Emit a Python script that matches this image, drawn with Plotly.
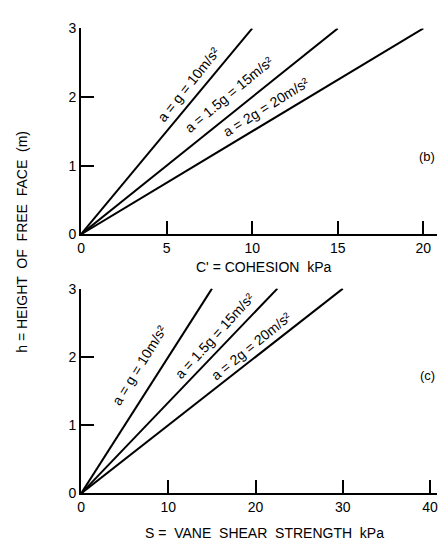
import plotly.graph_objects as go

# Data
accel_labels = ["a = g = 10m/s²", "a = 1.5g = 15m/s²", "a = 2g = 20m/s²"]
cohesion_kpa = [10, 15, 20]          # C' at h = 3 m (top panel)
vane_shear_kpa = [15, 22.5, 30]      # S at h = 3 m (bottom panel)
height_m = [3, 3, 3]
x_ticks_top = [0, 5, 10, 15, 20]
x_ticks_bottom = [0, 10, 20, 30, 40]
y_ticks = [0, 1, 2, 3]

W, H = 439, 551
FONT = "Liberation Sans, Arial, sans-serif"

fig = go.Figure()

for c, h in zip(cohesion_kpa, height_m):
    fig.add_trace(go.Scatter(x=[0, c], y=[0, h], mode="lines",
                             line=dict(color="black", width=2),
                             xaxis="x", yaxis="y", showlegend=False,
                             hoverinfo="skip"))
for s, h in zip(vane_shear_kpa, height_m):
    fig.add_trace(go.Scatter(x=[0, s], y=[0, h], mode="lines",
                             line=dict(color="black", width=2),
                             xaxis="x2", yaxis="y2", showlegend=False,
                             hoverinfo="skip"))

def px_x(p):
    return p / W

def px_y(p):
    return 1 - p / H

axis_common = dict(showgrid=False, zeroline=False, showline=True,
                   linecolor="black", linewidth=2, ticks="inside",
                   ticklen=13, tickwidth=2, tickcolor="black",
                   tickfont=dict(family=FONT, size=14, color="black"))

fig.update_layout(
    width=W, height=H,
    margin=dict(l=0, r=0, t=0, b=0),
    paper_bgcolor="white", plot_bgcolor="white",
    xaxis=dict(domain=[px_x(78), px_x(438)], range=[0, 20.8],
               tickvals=x_ticks_top, anchor="y", **axis_common),
    yaxis=dict(domain=[px_y(233), px_y(21)], range=[0, 3],
               tickvals=y_ticks, anchor="x", **axis_common),
    xaxis2=dict(domain=[px_x(78), px_x(438)], range=[0, 40.8],
                tickvals=x_ticks_bottom, anchor="y2", **axis_common),
    yaxis2=dict(domain=[px_y(500), px_y(289)], range=[0, 3],
                tickvals=y_ticks, anchor="x2", **axis_common),
)

# rotated line labels (data coordinates)
top_pos = [(6.3, 2.19, -51.5), (8.67, 2.04, -39.8), (10.8, 1.85, -32)]
bot_pos = [(6.7, 1.88, -58.4), (15.3, 2.30, -47.7), (19.5, 2.16, -39.3)]
for lab, (x, y, a) in zip(accel_labels, top_pos):
    fig.add_annotation(x=x, y=y, xref="x", yref="y", text=lab, textangle=a,
                       showarrow=False, xanchor="center", yanchor="middle",
                       font=dict(family=FONT, size=14, color="black"))
for lab, (x, y, a) in zip(accel_labels, bot_pos):
    fig.add_annotation(x=x, y=y, xref="x2", yref="y2", text=lab, textangle=a,
                       showarrow=False, xanchor="center", yanchor="middle",
                       font=dict(family=FONT, size=14, color="black"))

# titles and panel letters
fig.add_annotation(x=px_x(263), y=px_y(267), xref="paper", yref="paper",
                   text="C' = COHESION  kPa", showarrow=False,
                   xanchor="center", yanchor="middle",
                   font=dict(family=FONT, size=14, color="black"))
fig.add_annotation(x=px_x(263), y=px_y(541), xref="paper", yref="paper",
                   text="S =  VANE  SHEAR  STRENGTH  kPa", showarrow=False,
                   xanchor="center", yanchor="middle",
                   font=dict(family=FONT, size=14, color="black"))
fig.add_annotation(x=px_x(18), y=px_y(241), xref="paper", yref="paper",
                   text="h = HEIGHT  OF  FREE  FACE  (m)", textangle=-90,
                   showarrow=False, xanchor="center", yanchor="middle",
                   font=dict(family=FONT, size=14, color="black"))
fig.add_annotation(x=px_x(438), y=px_y(153), xref="paper", yref="paper",
                   xanchor="right", yanchor="middle", text="(b)",
                   showarrow=False,
                   font=dict(family=FONT, size=13, color="black"))
fig.add_annotation(x=px_x(438), y=px_y(379), xref="paper", yref="paper",
                   xanchor="right", yanchor="middle", text="(c)",
                   showarrow=False,
                   font=dict(family=FONT, size=13, color="black"))

fig.write_html("out.html")
